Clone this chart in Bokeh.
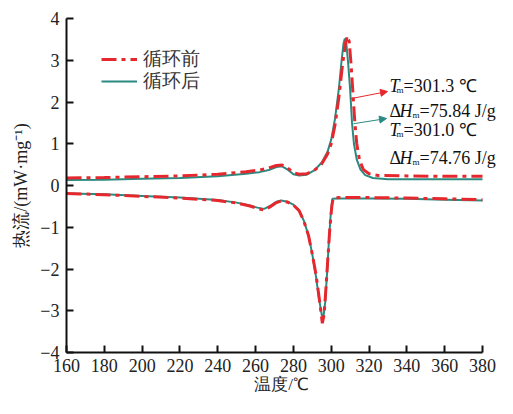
from bokeh.plotting import figure
from bokeh.models import (Range1d, FixedTicker, Legend, LegendItem, Label, Arrow, NormalHead)
from bokeh.embed import file_html
from bokeh.resources import INLINE

# ---- data ----
heat_before_T = [160, 180, 200, 220, 240, 255, 262, 267, 271, 274, 277, 280, 283, 287, 291, 295, 298, 300, 302, 304, 306, 307.5, 308.5, 309.5, 310.5, 311.5, 312.5, 313.5, 315, 317, 320, 325, 340, 360, 380]
heat_before_v = [0.18, 0.19, 0.21, 0.23, 0.27, 0.33, 0.37, 0.42, 0.48, 0.49, 0.42, 0.31, 0.27, 0.28, 0.36, 0.52, 0.75, 1.0, 1.45, 2.1, 2.9, 3.4, 3.58, 3.45, 2.9, 2.2, 1.5, 1.0, 0.6, 0.38, 0.28, 0.24, 0.23, 0.22, 0.22]

heat_after_T = [160, 180, 200, 220, 240, 255, 262, 267, 271, 274, 277, 280, 283, 287, 291, 295, 298, 300, 302, 304, 305.5, 306.5, 307.2, 308, 309, 310, 311, 312, 313.5, 315.5, 318, 322, 330, 350, 380]
heat_after_v = [0.13, 0.14, 0.16, 0.18, 0.22, 0.28, 0.32, 0.37, 0.44, 0.46, 0.38, 0.27, 0.24, 0.26, 0.36, 0.55, 0.8, 1.1, 1.6, 2.3, 3.0, 3.4, 3.52, 3.4, 2.9, 2.3, 1.5, 1.0, 0.62, 0.38, 0.25, 0.18, 0.15, 0.15, 0.15]

cool_before_T = [160, 180, 200, 220, 240, 250, 257, 261, 264.5, 268, 271, 273.5, 277, 280, 283, 285.5, 288, 290, 292, 293.5, 294.5, 295.3, 296.2, 297, 298, 299.3, 300.3, 301, 305, 320, 340, 360, 380]
cool_before_v = [-0.19, -0.22, -0.26, -0.30, -0.36, -0.42, -0.49, -0.55, -0.59, -0.50, -0.41, -0.37, -0.40, -0.47, -0.60, -0.85, -1.2, -1.65, -2.15, -2.65, -3.0, -3.3, -3.1, -2.6, -1.9, -1.0, -0.5, -0.3, -0.29, -0.29, -0.30, -0.32, -0.34]

cool_after_T = [160, 180, 200, 220, 240, 250, 257, 261, 264.5, 268, 271, 273.5, 277, 280, 283, 285.5, 288, 290, 292, 293.5, 295, 295.8, 296.8, 297.8, 298.8, 299.8, 300.6, 303, 320, 340, 360, 380]
cool_after_v = [-0.19, -0.21, -0.25, -0.29, -0.35, -0.41, -0.48, -0.53, -0.56, -0.48, -0.39, -0.36, -0.39, -0.46, -0.60, -0.84, -1.2, -1.65, -2.2, -2.7, -3.1, -3.17, -2.8, -2.1, -1.3, -0.65, -0.32, -0.31, -0.31, -0.32, -0.34, -0.36]

x_ticks = [160, 180, 200, 220, 240, 260, 280, 300, 320, 340, 360, 380]
y_ticks = [-4, -3, -2, -1, 0, 1, 2, 3, 4]
legend_labels = ["循环前", "循环后"]

RED = "#e6282e"
TEAL = "#2b8a80"
SERIF = "Liberation Serif"

W, H = 497, 398
LEFT, TOP, FRAME_W_DATA_PX = 66, 18, 416  # px for 160..380
px_per_deg = FRAME_W_DATA_PX / 220.0
x_end = 160 + (W - LEFT) / px_per_deg  # frame reaches the canvas edge so texts are not clipped

p = figure(width=W, height=H, output_backend="svg", toolbar_location=None,
           x_range=Range1d(160, x_end), y_range=Range1d(-4, 4),
           min_border_left=LEFT, min_border_right=0, min_border_top=TOP, min_border_bottom=46)
p.outline_line_color = None
p.grid.visible = False
p.background_fill_color = "white"

for ax in (p.xaxis[0], p.yaxis[0]):
    ax.axis_line_width = 2
    ax.axis_line_color = "#111111"
    ax.major_tick_line_width = 2
    ax.major_tick_line_color = "#111111"
    ax.major_tick_in = 7
    ax.major_tick_out = 0
    ax.minor_tick_line_color = None
    ax.major_label_text_font = SERIF
    ax.major_label_text_font_size = "18px"
    ax.major_label_text_color = "#222222"
    ax.axis_label_text_font = SERIF
    ax.axis_label_text_font_style = "normal"
    ax.axis_label_text_color = "#222222"

p.xaxis.ticker = FixedTicker(ticks=x_ticks)
p.xaxis.bounds = (160, 380)
p.yaxis.ticker = FixedTicker(ticks=y_ticks)
p.yaxis.major_label_overrides = {t: (str(t).replace("-", "\u2212")) for t in y_ticks}
p.xaxis.major_label_standoff = 6
p.yaxis.major_label_standoff = 7

p.xaxis.axis_label = "温度/℃"
p.xaxis.axis_label_text_font_size = "17px"
p.xaxis.axis_label_standoff = 0
p.yaxis.axis_label = "热流/(mW·mg⁻¹)"
p.yaxis.axis_label_text_font_size = "18px"
p.yaxis.axis_label_standoff = 6

dash = "15 5 4 5"
ha = p.line(heat_after_T, heat_after_v, line_color=TEAL, line_width=2)
ca = p.line(cool_after_T, cool_after_v, line_color=TEAL, line_width=2)
hb = p.line(heat_before_T, heat_before_v, line_color=RED, line_width=3, line_dash=dash)
cb = p.line(cool_before_T, cool_before_v, line_color=RED, line_width=3, line_dash=dash)

def make_legend(label, renderer, bottom):
    return Legend(items=[LegendItem(label=label, renderers=[renderer])],
                  location=(35, bottom), border_line_color=None, background_fill_alpha=0,
                  padding=0, spacing=0, margin=0, glyph_width=36, glyph_height=14,
                  label_height=14, label_standoff=6, label_text_font=SERIF,
                  label_text_font_size="19px", label_text_color="#333333")

p.add_layout(make_legend(legend_labels[0], hb, 280))
p.add_layout(make_legend(legend_labels[1], ha, 258))

# ---- annotations ----
def lab(x, y, text, size="18px", style="normal"):
    p.add_layout(Label(x=x, y=y, text=text, text_font=SERIF, text_font_size=size,
                       text_font_style=style, text_color="#111111",
                       text_baseline="alphabetic", text_align="left"))

def dx(px):
    return 160 + (px - LEFT) / px_per_deg

def dy(py):
    return (185 - py) / 41.75

# block 1: T_m = 301.3 ℃
lab(dx(389), dy(85), "T", style="italic")
lab(dx(396), dy(89), "m", size="9px")
lab(dx(403), dy(85), "=301.3 ℃")
# block 2: ΔH_m = 75.84 J/g
lab(dx(389), dy(110), "Δ")
lab(dx(399), dy(110), "H", style="italic")
lab(dx(412), dy(114), "m", size="9px")
lab(dx(419), dy(110), "=75.84 J/g")
# block 3: T_m = 301.0 ℃
lab(dx(389), dy(129), "T", style="italic")
lab(dx(396), dy(133), "m", size="9px")
lab(dx(403), dy(129), "=301.0 ℃")
# block 4: ΔH_m = 74.76 J/g
lab(dx(389), dy(157), "Δ")
lab(dx(399), dy(157), "H", style="italic")
lab(dx(412), dy(161), "m", size="9px")
lab(dx(419), dy(157), "=74.76 J/g")

p.add_layout(Arrow(x_start=310.3, y_start=2.08, x_end=dx(387), y_end=dy(91),
                   line_color=RED, line_width=1,
                   end=NormalHead(size=7, fill_color=RED, line_color=RED)))
p.add_layout(Arrow(x_start=311.8, y_start=1.48, x_end=dx(386), y_end=dy(118),
                   line_color=TEAL, line_width=1,
                   end=NormalHead(size=7, fill_color=TEAL, line_color=TEAL)))

open("out.html", "w").write(file_html(p, INLINE))
